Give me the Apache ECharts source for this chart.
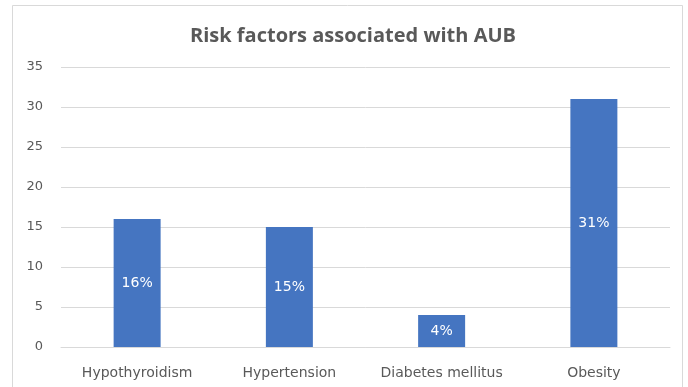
<!DOCTYPE html>
<html>
<head>
<meta charset="utf-8">
<script src="https://cdn.jsdelivr.net/npm/echarts@6/dist/echarts.min.js"></script>
<style>
  html, body { margin: 0; padding: 0; background: #fff; }
  #main { width: 688px; height: 387px; }
</style>
</head>
<body>
<div id="main"></div>
<script>
var categories = ['Hypothyroidism', 'Hypertension', 'Diabetes mellitus', 'Obesity'];
var values = [16, 15, 4, 31];
var valueLabels = ['16%', '15%', '4%', '31%'];

var myChart = echarts.init(document.getElementById('main'));

var option = {
    backgroundColor: '#fff',
    animation: false,
    graphic: [{
        type: 'rect',
        shape: { x: 12.5, y: 5.5, width: 670, height: 400 },
        style: { fill: 'none', stroke: '#d9d9d9', lineWidth: 1 },
        silent: true
    }],
    title: {
        text: 'Risk factors associated with AUB',
        left: 348,
        textAlign: 'center',
        top: 21,
        textStyle: {
            color: '#595959',
            fontSize: 20,
            fontWeight: 'bold',
            fontFamily: 'Open Sans'
        }
    },
    grid: {
        left: 61,
        right: 18,
        top: 67,
        bottom: 40
    },
    xAxis: {
        type: 'category',
        data: categories,
        axisLine: { lineStyle: { color: '#d9d9d9' } },
        axisTick: { show: false },
        axisLabel: {
            color: '#595959',
            fontSize: 14,
            margin: 19,
            interval: 0, // 强制显示所有标签
            hideOverlap: false,
            fontFamily: 'DejaVu Sans'
        }
    },
    yAxis: {
        type: 'value',
        min: 0,
        max: 35,
        interval: 5,
        axisLine: { show: false },
        axisTick: { show: false },
        axisLabel: {
            color: '#595959',
            fontSize: 13,
            margin: 18,
            fontFamily: 'DejaVu Sans'
        },
        splitLine: { lineStyle: { color: '#d9d9d9' } }
    },
    series: [{
        type: 'bar',
        data: values,
        barWidth: 47,
        itemStyle: { color: '#4575c1' },
        label: {
            show: true,
            position: 'inside',
            color: '#fff',
            fontSize: 14,
            fontFamily: 'DejaVu Sans',
            formatter: function (p) { return valueLabels[p.dataIndex]; }
        }
    }]
};

myChart.setOption(option);
</script>
</body>
</html>
